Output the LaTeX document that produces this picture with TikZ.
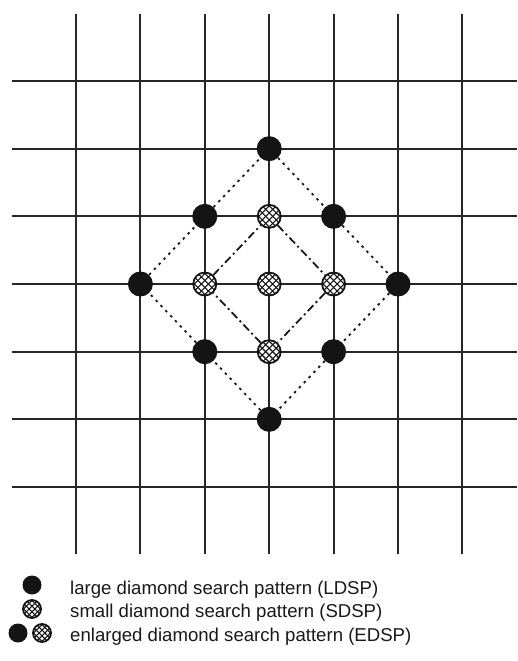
\documentclass[tikz,border=0pt]{standalone}
\usepackage{fontspec}
\setmainfont{Liberation Sans}
\usetikzlibrary{backgrounds}

\tikzset{
  gridline/.style={line width=1.9pt, black!85},
  % filled search point of the large pattern
  ldspdot/.style={circle, fill=black!92, inner sep=0pt, minimum size=#1},
  ldspdot/.default=25pt,
  % cross-hatched search point of the small pattern: #1 size, #2 hatch step
  sdsp/.style 2 args={circle, draw=black!92, line width=1.8pt, fill=white,
    inner sep=0pt, minimum size=#1,
    path picture={
      \foreach \k in {-1.5,-0.5,0.5,1.5}{
        \draw[line width=1.1pt, black!92]
          ([xshift=\k*#2]path picture bounding box.center) +(-20pt,-20pt) -- +(20pt,20pt);
        \draw[line width=1.1pt, black!92]
          ([xshift=\k*#2]path picture bounding box.center) +(20pt,-20pt) -- +(-20pt,20pt);
      }}},
  sdspdot/.style={sdsp={23pt}{7pt}},
  sdspmark/.style={sdsp={18pt}{5.6pt}},
  ldspline/.style={line width=1.8pt, black!90, dash pattern=on 2.5pt off 4.5pt},
  sdspline/.style={line width=1.8pt, black!90, dash pattern=on 8pt off 3.5pt on 2pt off 3.5pt},
  legendtext/.style={anchor=base west, inner sep=0pt,
    font=\fontsize{18.6pt}{22pt}\selectfont, text=black!90}
}

\begin{document}
\begin{tikzpicture}
\useasboundingbox (0,0) rectangle (517pt,-661pt);

\begin{scope}[shift={(76pt,-81pt)}, x=64.4pt, y=-67.67pt]
  % search grid
  \foreach \i in {0,...,6}
    \draw[gridline] (\i,-0.99) -- (\i,6.99);
  \foreach \j in {0,...,6}
    \draw[gridline] (-0.99,\j) -- (6.85,\j);

  % large diamond search pattern
  \node[ldspdot] (lw)  at (1,3) {};
  \node[ldspdot] (lnw) at (2,2) {};
  \node[ldspdot] (ln)  at (3,1) {};
  \node[ldspdot] (lne) at (4,2) {};
  \node[ldspdot] (le)  at (5,3) {};
  \node[ldspdot] (lse) at (4,4) {};
  \node[ldspdot] (ls)  at (3,5) {};
  \node[ldspdot] (lsw) at (2,4) {};

  % small diamond search pattern
  \node[sdspdot] (sc) at (3,3) {};
  \node[sdspdot] (sw) at (2,3) {};
  \node[sdspdot] (sn) at (3,2) {};
  \node[sdspdot] (se) at (4,3) {};
  \node[sdspdot] (ss) at (3,4) {};

  \begin{pgfonlayer}{background}
    \draw[ldspline] (lw) -- (lnw);
    \draw[ldspline] (lnw) -- (ln);
    \draw[ldspline] (ln) -- (lne);
    \draw[ldspline] (lne) -- (le);
    \draw[ldspline] (le) -- (lse);
    \draw[ldspline] (lse) -- (ls);
    \draw[ldspline] (ls) -- (lsw);
    \draw[ldspline] (lsw) -- (lw);

    \draw[sdspline] (sw) -- (sn);
    \draw[sdspline] (sn) -- (se);
    \draw[sdspline] (se) -- (ss);
    \draw[sdspline] (ss) -- (sw);
  \end{pgfonlayer}
\end{scope}

% legend
\node[ldspdot=19pt] (k1) at (32pt,-585pt) {};
\node[legendtext] (t1) at (70pt,-594pt) {large diamond search pattern (LDSP)};
\node[sdspmark] (k2) at (32pt,-609pt) {};
\node[legendtext] (t2) at (70pt,-617.5pt) {small diamond search pattern (SDSP)};
\node[ldspdot=19pt] (k3a) at (18pt,-633pt) {};
\node[sdspmark] (k3b) at (42pt,-633pt) {};
\node[legendtext] (t3) at (70pt,-641pt) {enlarged diamond search pattern (EDSP)};
\end{tikzpicture}
\end{document}
